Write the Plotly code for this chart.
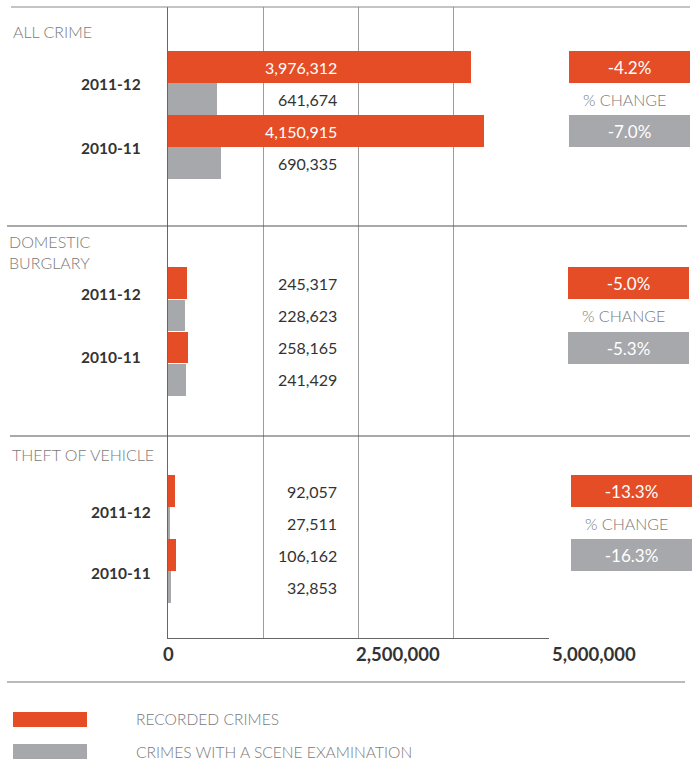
import plotly.graph_objects as go

# ---------------- data ----------------
categories = ["ALL CRIME", "DOMESTIC<br>BURGLARY", "THEFT OF VEHICLE"]
years = ["2011-12", "2010-11"]
recorded = [[3976312, 4150915], [245317, 258165], [92057, 106162]]
examined = [[641674, 690335], [228623, 241429], [27511, 32853]]
pct_recorded = ["-4.2%", "-5.0%", "-13.3%"]
pct_examined = ["-7.0%", "-5.3%", "-16.3%"]
grid_vals = [1250000, 2500000, 3750000, 5000000]
tick_labels = ["0", "2,500,000", "5,000,000"]
legend_names = ["RECORDED CRIMES", "CRIMES WITH A SCENE EXAMINATION"]

# ---------------- layout constants (pixels) ----------------
W, H = 698, 764
PL, PR, PT, PB = 168, 549, 7, 638
RED = "#E44D26"
GREY = "#A7A8AB"
DARK = "#333333"
LIGHT = "#7a7a7a"
FONT = "Lato"

first_bar_top = [51, 267, 475]
BAR_H = 32
PITCH = [32, 32.3, 32]
title_pos = [(11, 32), (7, 252), (10, 454)]
year_pos = [(143, [84, 148]), (143, [294, 357]), (153, [512, 573])]
pct_box_cx = [629.5, 628.5, 631]
tick_label_px = [168, 398, 594]
VALUE_X = 339


def px(x):
    # pixel -> plotly paper x (relative to plot area)
    return (x - PL) / (PR - PL)


def py(y):
    # pixel -> plotly paper y (relative to plot area)
    return (PB - y) / (PB - PT)


rec_x, rec_y, exa_x, exa_y = [], [], [], []
for p in range(3):
    for j in range(2):
        top = first_bar_top[p]
        rec_x.append(recorded[p][j])
        rec_y.append(top + BAR_H / 2 + PITCH[p] * 2 * j)
        exa_x.append(examined[p][j])
        exa_y.append(top + BAR_H / 2 + PITCH[p] * (2 * j + 1))

fig = go.Figure()
fig.add_trace(go.Bar(x=rec_x, y=rec_y, orientation="h", width=BAR_H - 0.5,
                     marker=dict(color=RED, line=dict(width=0)),
                     name=legend_names[0], showlegend=False))
fig.add_trace(go.Bar(x=exa_x, y=exa_y, orientation="h", width=BAR_H - 0.5,
                     marker=dict(color=GREY, line=dict(width=0)),
                     name=legend_names[1], showlegend=False))

ann = []
shapes = []

# value labels
for p in range(3):
    for j in range(2):
        k = p * 2 + j
        ann.append(dict(x=px(VALUE_X), xref="paper", y=rec_y[k], yref="y",
                        text=f"{recorded[p][j]:,}", showarrow=False,
                        xanchor="right", yanchor="middle",
                        font=dict(family=FONT, size=16,
                                  color="white" if p == 0 else DARK)))
        ann.append(dict(x=px(VALUE_X), xref="paper", y=exa_y[k], yref="y",
                        text=f"{examined[p][j]:,}", showarrow=False,
                        xanchor="right", yanchor="middle",
                        font=dict(family=FONT, size=16, color=DARK)))

# year labels
for p in range(3):
    xr, ys = year_pos[p]
    for j in range(2):
        ann.append(dict(x=px(xr), xref="paper", y=ys[j], yref="y",
                        text=f"<b>{years[j]}</b>", showarrow=False,
                        xanchor="right", yanchor="middle",
                        font=dict(family=FONT, size=15.5, color=DARK)))

# category titles
for p in range(3):
    x0, yc = title_pos[p]
    ann.append(dict(x=px(x0), xref="paper", y=py(yc), yref="paper",
                    text=categories[p], showarrow=False, align="left",
                    xanchor="left", yanchor="middle",
                    font=dict(family=FONT, size=16, color=LIGHT, weight=300)))

# percent change boxes
for p in range(3):
    ann.append(dict(x=px(pct_box_cx[p]), xref="paper", y=rec_y[p * 2], yref="y",
                    text=pct_recorded[p], showarrow=False, width=121, height=32,
                    bgcolor=RED, borderpad=0, borderwidth=0,
                    xanchor="center", yanchor="middle",
                    font=dict(family=FONT, size=17, color="white")))
    ann.append(dict(x=px(pct_box_cx[p]), xref="paper", y=rec_y[p * 2 + 1], yref="y",
                    text=pct_examined[p], showarrow=False, width=121, height=32,
                    bgcolor=GREY, borderpad=0, borderwidth=0,
                    xanchor="center", yanchor="middle",
                    font=dict(family=FONT, size=17, color="white")))
    ann.append(dict(x=px(pct_box_cx[p] - 5), xref="paper", y=exa_y[p * 2], yref="y",
                    text="% CHANGE", showarrow=False,
                    xanchor="center", yanchor="middle",
                    font=dict(family=FONT, size=16, color=LIGHT, weight=300)))

# x tick labels
for t, xp in zip(tick_labels, tick_label_px):
    ann.append(dict(x=px(xp), xref="paper", y=py(654), yref="paper",
                    text=f"<b>{t}</b>", showarrow=False,
                    xanchor="center", yanchor="middle",
                    font=dict(family=FONT, size=18.5, color=DARK)))

# horizontal rules
for (x0, x1, y, c) in [(11, 690, 7, "#8a8a8a"), (7, 687, 226, "#555555"),
                       (10, 690, 436, "#555555"), (7, 685, 682, "#777777")]:
    shapes.append(dict(type="line", xref="paper", yref="paper",
                       x0=px(x0), x1=px(x1), y0=py(y), y1=py(y),
                       line=dict(color=c, width=1.2)))

# legend
for k, (c, yc) in enumerate([(RED, 719.5), (GREY, 751.5)]):
    shapes.append(dict(type="rect", xref="paper", yref="paper",
                       x0=px(13), x1=px(87), y0=py(yc - 7.5), y1=py(yc + 7.5),
                       fillcolor=c, line=dict(width=0)))
    ann.append(dict(x=px(134), xref="paper", y=py(yc), yref="paper",
                    text=legend_names[k], showarrow=False,
                    xanchor="left", yanchor="middle",
                    font=dict(family=FONT, size=15.6, color=LIGHT, weight=300)))

fig.update_layout(
    width=W, height=H,
    margin=dict(l=PL, r=W - PR, t=PT, b=H - PB, pad=0),
    paper_bgcolor="white", plot_bgcolor="white",
    barmode="overlay", bargap=0,
    xaxis=dict(range=[0, 5000000], tickvals=grid_vals, showticklabels=False,
               showgrid=True, gridcolor="#9c9c9c", gridwidth=1,
               showline=True, linecolor="#666666", linewidth=1.2,
               zeroline=False, ticks="", fixedrange=True),
    yaxis=dict(range=[PB, PT], showgrid=False, showticklabels=False,
               showline=True, linecolor="#666666", linewidth=1.2,
               zeroline=False, ticks="", fixedrange=True),
    annotations=ann, shapes=shapes,
    hovermode=False,
)

fig.write_html("out.html", config={"displayModeBar": False},
               post_script="document.body.style.margin='0';document.body.style.overflow='hidden';")
